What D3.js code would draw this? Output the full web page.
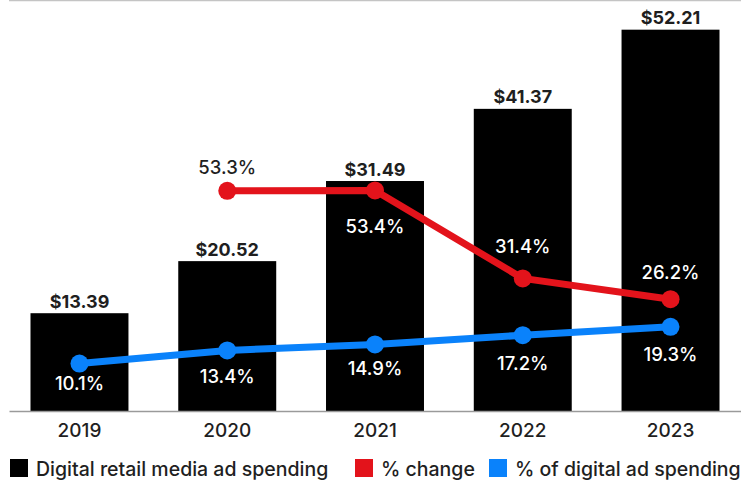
<!DOCTYPE html>
<html><head><meta charset="utf-8">
<script src="https://cdn.jsdelivr.net/npm/d3@7"></script>
<style>
html,body{margin:0;padding:0;background:#fff;}
svg{display:block;font-family:Inter, "Noto Sans", sans-serif;}
</style></head>
<body>
<svg id="chart" width="754" height="480"></svg>
<script>
const years = ["2019","2020","2021","2022","2023"];
const spending = [13.39, 20.52, 31.49, 41.37, 52.21];
const pctChange = [null, 53.3, 53.4, 31.4, 26.2];
const pctDigital = [10.1, 13.4, 14.9, 17.2, 19.3];
const legendLabels = ["Digital retail media ad spending", "% change", "% of digital ad spending"];

const RED = "#e3131b", BLUE = "#0a82fb", TEXT = "#1f1f1f";
const svg = d3.select("#chart");

const x = d3.scaleBand().domain(years).range([5.6, 744.4]).paddingInner(0.337).paddingOuter(0.1685);
const y = d3.scaleLinear().domain([0, 56]).range([411, 2]);
const yp = d3.scaleLinear().domain([0, 100]).range([404, 4]);
const cx = d => x(d) + x.bandwidth() / 2;

// top rule
svg.append("line").attr("x1", 9).attr("x2", 741).attr("y1", 0.5).attr("y2", 0.5)
  .attr("stroke", "#c4c4c4").attr("stroke-width", 1.5);

// bars
svg.selectAll("rect.bar").data(years).join("rect").attr("class", "bar")
  .attr("x", d => x(d)).attr("width", x.bandwidth())
  .attr("y", (d, i) => y(spending[i])).attr("height", (d, i) => y(0) - y(spending[i]))
  .attr("fill", "#000");

// bar labels
svg.selectAll("text.bl").data(years).join("text").attr("class", "bl")
  .attr("x", d => cx(d)).attr("y", (d, i) => y(spending[i]) - 12)
  .attr("text-anchor", "middle").attr("dominant-baseline", "central")
  .attr("font-size", 18).attr("font-weight", 700).attr("fill", TEXT)
  .text((d, i) => "$" + d3.format(".2f")(spending[i]));

// x axis
const xAxis = d3.axisBottom(x).tickSize(0).tickPadding(0);
const ax = svg.append("g").attr("transform", "translate(0,411.5)").call(xAxis);
ax.select(".domain").remove();
ax.append("line").attr("x1", 9.5).attr("x2", 741).attr("stroke", "#9a9a9a").attr("stroke-width", 1.5);
ax.selectAll(".tick text").attr("y", 18.5).attr("dy", null).attr("dominant-baseline", "central")
  .attr("font-size", 19).attr("font-weight", 500).attr("fill", TEXT).attr("font-family", "Inter");

// lines
const line = d3.line().defined(d => d[1] != null).x(d => cx(d[0])).y(d => yp(d[1]));
function series(vals, color) {
  const pts = years.map((yr, i) => [yr, vals[i]]);
  svg.append("path").datum(pts).attr("d", line).attr("fill", "none")
    .attr("stroke", color).attr("stroke-width", 7).attr("stroke-linejoin", "round");
  svg.append("g").selectAll("circle").data(pts.filter(p => p[1] != null)).join("circle")
    .attr("cx", p => cx(p[0])).attr("cy", p => yp(p[1])).attr("r", 9).attr("fill", color);
  return pts;
}
const redPts = series(pctChange, RED);
const bluePts = series(pctDigital, BLUE);

// point labels
const redOff = [0, -24, 36, -32, -27];
const redCol = [TEXT, TEXT, "#fff", "#fff", "#fff"];
svg.append("g").selectAll("text").data(redPts.map((p, i) => [p, i]).filter(d => d[0][1] != null)).join("text")
  .attr("x", d => cx(d[0][0])).attr("y", d => yp(d[0][1]) + redOff[d[1]])
  .attr("text-anchor", "middle").attr("dominant-baseline", "central")
  .attr("font-size", 18.5).attr("font-weight", 500).attr("fill", d => redCol[d[1]])
  .text(d => d3.format(".1f")(d[0][1]) + "%");

const blueOff = [19, 26, 24, 28, 27];
svg.append("g").selectAll("text").data(bluePts.map((p, i) => [p, i])).join("text")
  .attr("x", d => cx(d[0][0])).attr("y", d => yp(d[0][1]) + blueOff[d[1]])
  .attr("text-anchor", "middle").attr("dominant-baseline", "central")
  .attr("font-size", 18.5).attr("font-weight", 500).attr("fill", "#fff")
  .text(d => d3.format(".1f")(d[0][1]) + "%");

// legend
const legX = [10, 355, 489];
const legCol = ["#000", RED, BLUE];
const leg = svg.append("g").attr("transform", "translate(0,459)");
legendLabels.forEach((lab, i) => {
  leg.append("rect").attr("x", legX[i]).attr("y", 0).attr("width", 18).attr("height", 18).attr("fill", legCol[i]);
  leg.append("text").attr("x", legX[i] + 26).attr("y", 9.5).attr("dominant-baseline", "central")
    .attr("font-size", 19.5).attr("font-weight", 500).attr("fill", TEXT).text(lab);
});
</script>
</body></html>
